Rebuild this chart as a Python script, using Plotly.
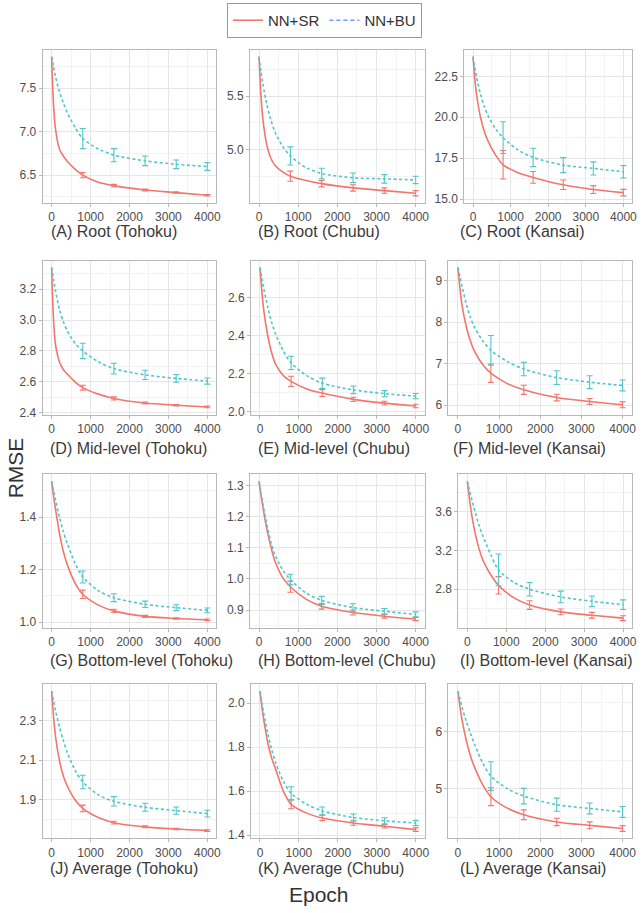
import plotly.graph_objects as go

# ---------------- data ----------------
EPOCHS = [0, 50, 100, 200, 300, 400, 600, 800, 1200, 1600, 2400, 3200, 4000]
BAR_EPOCHS = [800, 1600, 2400, 3200, 4000]

PANEL_TITLES = ["(A) Root (Tohoku)", "(B) Root (Chubu)", "(C) Root (Kansai)",
                "(D) Mid-level (Tohoku)", "(E) Mid-level (Chubu)", "(F) Mid-level (Kansai)",
                "(G) Bottom-level (Tohoku)", "(H) Bottom-level (Chubu)", "(I) Bottom-level (Kansai)",
                "(J) Average (Tohoku)", "(K) Average (Chubu)", "(L) Average (Kansai)"]

A_SR = [7.86, 7.30, 7.03, 6.80, 6.72, 6.66, 6.57, 6.50, 6.42, 6.38, 6.33, 6.30, 6.27]
A_BU = [7.86, 7.74, 7.63, 7.46, 7.33, 7.22, 7.05, 6.92, 6.80, 6.73, 6.665, 6.625, 6.60]
B_SR = [5.87, 5.50, 5.28, 5.04, 4.92, 4.855, 4.79, 4.75, 4.71, 4.68, 4.64, 4.615, 4.59]
B_BU = [5.87, 5.73, 5.61, 5.42, 5.28, 5.17, 5.03, 4.94, 4.83, 4.775, 4.735, 4.725, 4.715]
C_SR = [23.7, 22.3, 21.3, 20.0, 19.15, 18.55, 17.7, 17.1, 16.62, 16.33, 15.88, 15.59, 15.40]
C_BU = [23.7, 23.0, 22.4, 21.4, 20.65, 20.1, 19.3, 18.76, 18.0, 17.55, 17.08, 16.88, 16.67]
D_SR = [3.34, 3.00, 2.84, 2.73, 2.68, 2.65, 2.60, 2.562, 2.52, 2.492, 2.462, 2.448, 2.437]
D_BU = [3.34, 3.26, 3.19, 3.07, 2.99, 2.93, 2.85, 2.80, 2.73, 2.685, 2.645, 2.622, 2.605]
E_SR = [2.759, 2.63, 2.53, 2.40, 2.31, 2.25, 2.19, 2.16, 2.12, 2.098, 2.065, 2.045, 2.03]
E_BU = [2.759, 2.70, 2.645, 2.55, 2.47, 2.41, 2.32, 2.257, 2.19, 2.15, 2.115, 2.095, 2.082]
F_SR = [9.31, 8.80, 8.40, 7.90, 7.55, 7.30, 6.98, 6.77, 6.52, 6.37, 6.185, 6.09, 6.01]
F_BU = [9.31, 9.08, 8.85, 8.45, 8.12, 7.88, 7.55, 7.32, 7.05, 6.87, 6.665, 6.555, 6.475]
G_SR = [1.536, 1.48, 1.43, 1.34, 1.27, 1.22, 1.15, 1.106, 1.065, 1.043, 1.022, 1.014, 1.009]
G_BU = [1.536, 1.50, 1.465, 1.40, 1.345, 1.30, 1.225, 1.172, 1.12, 1.093, 1.068, 1.055, 1.045]
H_SR = [1.314, 1.27, 1.23, 1.16, 1.105, 1.06, 1.005, 0.975, 0.935, 0.912, 0.892, 0.88, 0.871]
H_BU = [1.314, 1.275, 1.24, 1.175, 1.12, 1.08, 1.03, 0.998, 0.955, 0.931, 0.908, 0.896, 0.886]
I_SR = [3.917, 3.75, 3.60, 3.38, 3.22, 3.10, 2.95, 2.84, 2.71, 2.636, 2.565, 2.53, 2.50]
I_BU = [3.917, 3.83, 3.75, 3.60, 3.46, 3.35, 3.16, 3.00, 2.87, 2.80, 2.72, 2.675, 2.64]
J_SR = [2.449, 2.32, 2.22, 2.10, 2.02, 1.97, 1.90, 1.856, 1.81, 1.784, 1.763, 1.752, 1.744]
J_BU = [2.449, 2.40, 2.35, 2.27, 2.20, 2.14, 2.05, 1.99, 1.925, 1.892, 1.862, 1.845, 1.83]
K_SR = [2.054, 1.98, 1.92, 1.82, 1.75, 1.70, 1.60, 1.54, 1.50, 1.478, 1.455, 1.44, 1.425]
K_BU = [2.054, 2.00, 1.95, 1.86, 1.79, 1.73, 1.645, 1.59, 1.54, 1.51, 1.48, 1.465, 1.455]
L_SR = [6.70, 6.42, 6.20, 5.85, 5.58, 5.38, 5.07, 4.86, 4.66, 4.545, 4.42, 4.36, 4.305]
L_BU = [6.70, 6.56, 6.42, 6.18, 5.97, 5.78, 5.45, 5.22, 5.00, 4.87, 4.72, 4.655, 4.595]

A_SR_ERR = [0.03, 0.015, 0.01, 0.008, 0.008]
A_BU_ERR = [0.115, 0.075, 0.055, 0.05, 0.045]
B_SR_ERR = [0.047, 0.03, 0.03, 0.025, 0.025]
B_BU_ERR = [0.085, 0.05, 0.045, 0.04, 0.035]
C_SR_ERR = [0.87, 0.36, 0.29, 0.24, 0.2]
C_BU_ERR = [0.97, 0.56, 0.46, 0.4, 0.38]
D_SR_ERR = [0.016, 0.01, 0.006, 0.005, 0.005]
D_BU_ERR = [0.05, 0.035, 0.03, 0.025, 0.02]
E_SR_ERR = [0.027, 0.018, 0.011, 0.01, 0.009]
E_BU_ERR = [0.035, 0.027, 0.02, 0.016, 0.014]
F_SR_ERR = [0.22, 0.11, 0.08, 0.07, 0.07]
F_BU_ERR = [0.355, 0.16, 0.165, 0.155, 0.13]
G_SR_ERR = [0.016, 0.006, 0.004, 0.003, 0.003]
G_BU_ERR = [0.023, 0.015, 0.012, 0.011, 0.009]
H_SR_ERR = [0.018, 0.009, 0.008, 0.006, 0.005]
H_BU_ERR = [0.017, 0.013, 0.012, 0.009, 0.008]
I_SR_ERR = [0.09, 0.045, 0.03, 0.03, 0.025]
I_BU_ERR = [0.165, 0.07, 0.06, 0.055, 0.05]
J_SR_ERR = [0.017, 0.007, 0.005, 0.004, 0.004]
J_BU_ERR = [0.034, 0.024, 0.02, 0.018, 0.017]
K_SR_ERR = [0.02, 0.012, 0.01, 0.008, 0.008]
K_BU_ERR = [0.03, 0.018, 0.016, 0.014, 0.012]
L_SR_ERR = [0.155, 0.085, 0.065, 0.06, 0.05]
L_BU_ERR = [0.25, 0.135, 0.115, 0.095, 0.095]

X_TICKS = [0, 1000, 2000, 3000, 4000]
A_YTICKS = ["6.5", "7.0", "7.5"]
B_YTICKS = ["5.0", "5.5"]
C_YTICKS = ["15.0", "17.5", "20.0", "22.5"]
D_YTICKS = ["2.4", "2.6", "2.8", "3.0", "3.2"]
E_YTICKS = ["2.0", "2.2", "2.4", "2.6"]
F_YTICKS = ["6", "7", "8", "9"]
G_YTICKS = ["1.0", "1.2", "1.4"]
H_YTICKS = ["0.9", "1.0", "1.1", "1.2", "1.3"]
I_YTICKS = ["2.8", "3.2", "3.6"]
J_YTICKS = ["1.9", "2.1", "2.3"]
K_YTICKS = ["1.4", "1.6", "1.8", "2.0"]
L_YTICKS = ["5", "6"]

SERIES = ["NN+SR", "NN+BU"]

# ---------------- layout / style ----------------
W, H = 642, 913
SR_COLOR = "#F2766D"
BU_COLOR = "#4FC6CA"
LEG_BU_COLOR = "#6A9EF5"
GRID = "#E6E6E6"
GRID_MINOR = "#F3F3F3"
BORDER = "#B8B8B8"
FAMILY = "Liberation Sans, Arial, sans-serif"
TICKFONT = dict(family=FAMILY, size=12, color="#4D4D4D")

panels = [
    (A_SR, A_BU, A_SR_ERR, A_BU_ERR, A_YTICKS),
    (B_SR, B_BU, B_SR_ERR, B_BU_ERR, B_YTICKS),
    (C_SR, C_BU, C_SR_ERR, C_BU_ERR, C_YTICKS),
    (D_SR, D_BU, D_SR_ERR, D_BU_ERR, D_YTICKS),
    (E_SR, E_BU, E_SR_ERR, E_BU_ERR, E_YTICKS),
    (F_SR, F_BU, F_SR_ERR, F_BU_ERR, F_YTICKS),
    (G_SR, G_BU, G_SR_ERR, G_BU_ERR, G_YTICKS),
    (H_SR, H_BU, H_SR_ERR, H_BU_ERR, H_YTICKS),
    (I_SR, I_BU, I_SR_ERR, I_BU_ERR, I_YTICKS),
    (J_SR, J_BU, J_SR_ERR, J_BU_ERR, J_YTICKS),
    (K_SR, K_BU, K_SR_ERR, K_BU_ERR, K_YTICKS),
    (L_SR, L_BU, L_SR_ERR, L_BU_ERR, L_YTICKS),
]

ROW_TB = [(50, 204), (262, 417), (477, 631), (688, 843)]
LEFTS = [43, 252, 468, 43, 253, 452, 43, 252, 462, 43, 253, 452]
RIGHTS = [218, 428, 637]
TITLE_X = [49, 258, 462, 48, 258, 455, 48, 258, 462, 48, 258, 462]
TITLE_Y = [233, 451, 664, 873]

fig = go.Figure()
bar_idx = [EPOCHS.index(e) for e in BAR_EPOCHS]
annotations = []
layout_axes = {}

for i, (sr, bu, sre, bue, yt) in enumerate(panels):
    r, c = divmod(i, 3)
    n = i + 1
    xa = "x" if n == 1 else f"x{n}"
    ya = "y" if n == 1 else f"y{n}"
    top, bot = ROW_TB[r]
    left, right = LEFTS[i], RIGHTS[c]

    for vals, errs, col, dash in ((sr, sre, SR_COLOR, "solid"), (bu, bue, BU_COLOR, "3px,2.5px")):
        fig.add_trace(go.Scatter(x=EPOCHS, y=vals, mode="lines", xaxis=xa, yaxis=ya,
                                 line=dict(color=col, width=1.6, dash=dash, shape="spline", smoothing=0.8),
                                 showlegend=False, hoverinfo="skip"))
        fig.add_trace(go.Scatter(x=BAR_EPOCHS, y=[vals[k] for k in bar_idx], mode="markers",
                                 xaxis=xa, yaxis=ya, marker=dict(size=1, color=col, opacity=0),
                                 error_y=dict(type="data", array=errs, color=col, thickness=1.1, width=3),
                                 showlegend=False, hoverinfo="skip"))

    lo = min(min(sr), min(bu), min(sr[k] - e for k, e in zip(bar_idx, sre)),
             min(bu[k] - e for k, e in zip(bar_idx, bue)))
    hi = max(max(sr), max(bu), max(sr[k] + e for k, e in zip(bar_idx, sre)),
             max(bu[k] + e for k, e in zip(bar_idx, bue)))
    pad = (hi - lo) * 0.05
    tv = [float(t) for t in yt]
    step = tv[1] - tv[0]

    layout_axes["xaxis" if n == 1 else f"xaxis{n}"] = dict(
        domain=[left / W, right / W], anchor=ya, range=[-230, 4230],
        tickvals=X_TICKS, ticktext=[str(t) for t in X_TICKS],
        ticks="outside", ticklen=3, tickcolor=BORDER, tickfont=TICKFONT,
        showgrid=True, gridcolor=GRID, gridwidth=1, zeroline=False,
        showline=True, mirror=True, linecolor=BORDER, linewidth=1,
        minor=dict(tickvals=[500, 1500, 2500, 3500], showgrid=True, gridcolor=GRID_MINOR, ticks=""),
    )
    minor_vals = [tv[0] - step / 2] + [t + step / 2 for t in tv]
    layout_axes["yaxis" if n == 1 else f"yaxis{n}"] = dict(
        domain=[1 - bot / H, 1 - top / H], anchor=xa, range=[lo - pad, hi + pad],
        tickvals=tv, ticktext=yt,
        ticks="outside", ticklen=3, tickcolor=BORDER, tickfont=TICKFONT,
        showgrid=True, gridcolor=GRID, gridwidth=1, zeroline=False,
        showline=True, mirror=True, linecolor=BORDER, linewidth=1,
        minor=dict(tickvals=minor_vals, showgrid=True, gridcolor=GRID_MINOR, ticks=""),
    )
    annotations.append(dict(text=PANEL_TITLES[i], x=TITLE_X[i] / W, y=1 - TITLE_Y[r] / H,
                            xref="paper", yref="paper", xanchor="left", yanchor="middle",
                            showarrow=False,
                            font=dict(family=FAMILY, size=16, color="#3A3A3A")))

# legend entries
fig.add_trace(go.Scatter(x=[None], y=[None], mode="lines", name=SERIES[0],
                         line=dict(color=SR_COLOR, width=1.6)))
fig.add_trace(go.Scatter(x=[None], y=[None], mode="lines", name=SERIES[1],
                         line=dict(color=LEG_BU_COLOR, width=1.6, dash="4px,3px")))

annotations.append(dict(text="RMSE", x=16 / W, y=1 - 470 / H, xref="paper", yref="paper",
                        textangle=-90, showarrow=False, xanchor="center", yanchor="middle",
                        font=dict(family=FAMILY, size=21, color="#333333")))
annotations.append(dict(text="Epoch", x=321 / W, y=1 - 899 / H, xref="paper", yref="paper",
                        showarrow=False, xanchor="center", yanchor="middle",
                        font=dict(family=FAMILY, size=21, color="#333333")))

fig.update_layout(
    width=W, height=H, margin=dict(l=0, r=0, t=0, b=0),
    paper_bgcolor="white", plot_bgcolor="white",
    annotations=annotations,
    showlegend=True,
    legend=dict(orientation="h", x=327 / W, xanchor="center", y=1 - 3 / H, yanchor="top",
                bordercolor="#9A9A9A", borderwidth=1, itemwidth=30,
                font=dict(family=FAMILY, size=15, color="#333333"),
                bgcolor="white"),
    **layout_axes,
)

fig.write_html("out.html", config={"displayModeBar": False},
               post_script="document.body.style.margin='0';document.body.style.padding='0';")
